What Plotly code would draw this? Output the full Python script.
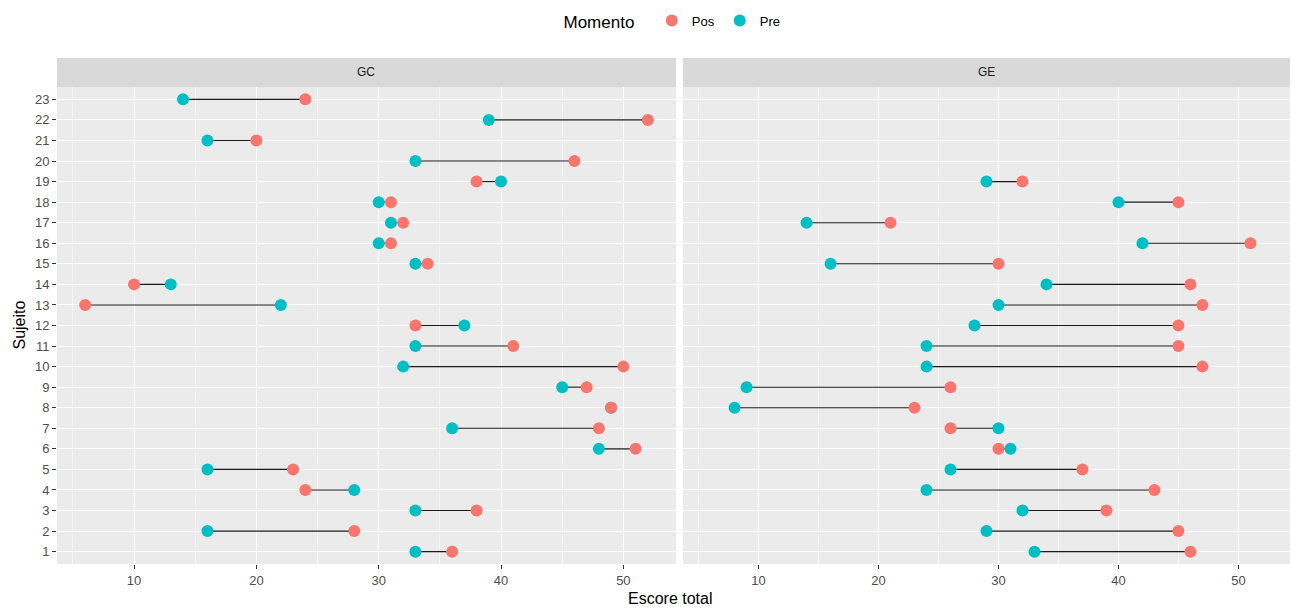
import plotly.graph_objects as go
from plotly.subplots import make_subplots

# Escore total por sujeito, antes (Pre) e depois (Pos), em cada grupo
subjects = list(range(1, 24))

gc_pre = [33, 16, 33, 28, 16, 48, 36, 49, 45, 32, 33, 37, 22, 13, 33, 30, 31, 30, 40, 33, 16, 39, 14]
gc_pos = [36, 28, 38, 24, 23, 51, 48, 49, 47, 50, 41, 33, 6, 10, 34, 31, 32, 31, 38, 46, 20, 52, 24]

ge_pre = [33, 29, 32, 24, 26, 31, 30, 8, 9, 24, 24, 28, 30, 34, 16, 42, 14, 40, 29, None, None, None, None]
ge_pos = [46, 45, 39, 43, 37, 30, 26, 23, 26, 47, 45, 45, 47, 46, 30, 51, 21, 45, 32, None, None, None, None]

groups = ["GC", "GE"]
panels = {"GC": (gc_pre, gc_pos), "GE": (ge_pre, ge_pos)}

col_pos = "#F8766D"
col_pre = "#00BFC4"
font_family = "Liberation Sans, Arial, sans-serif"

fig = make_subplots(rows=1, cols=2, shared_yaxes=True, horizontal_spacing=0.0057)

for i, g in enumerate(groups, start=1):
    pre, pos = panels[g]
    seg_x, seg_y = [], []
    for s, a, b in zip(subjects, pre, pos):
        if a is None or b is None:
            continue
        seg_x += [a, b, None]
        seg_y += [s, s, None]
    fig.add_trace(go.Scatter(x=seg_x, y=seg_y, mode="lines",
                             line=dict(color="#1a1a1a", width=1.1),
                             showlegend=False, hoverinfo="skip"), row=1, col=i)
    fig.add_trace(go.Scatter(x=pre, y=subjects, mode="markers", name="Pre",
                             marker=dict(color=col_pre, size=12),
                             legendgroup="Pre", legendrank=2, showlegend=(i == 1)),
                  row=1, col=i)
    fig.add_trace(go.Scatter(x=pos, y=subjects, mode="markers", name="Pos",
                             marker=dict(color=col_pos, size=12),
                             legendgroup="Pos", legendrank=1, showlegend=(i == 1)),
                  row=1, col=i)

x_common = dict(range=[3.7, 54.3], tickvals=[10, 20, 30, 40, 50],
                showgrid=True, gridcolor="white", gridwidth=1.1,
                minor=dict(tickvals=[5, 15, 25, 35, 45, 55], showgrid=True,
                           gridcolor="#F5F5F5", gridwidth=0.5, ticks=""),
                ticks="outside", ticklen=4, tickcolor="#333333",
                tickfont=dict(size=13, color="#4D4D4D", family=font_family),
                zeroline=False, showline=False)
plot_h = 608 - 58 - 44
y_dom = [0, (564 - 87) / plot_h]
fig.update_xaxes(**x_common)
fig.update_xaxes(domain=[0, 0.502], row=1, col=1)
fig.update_xaxes(domain=[0.5077, 1], row=1, col=2)

fig.update_yaxes(range=[0.4, 23.6], tickvals=subjects, domain=y_dom,
                 showgrid=True, gridcolor="white", gridwidth=1.1,
                 ticks="", zeroline=False, showline=False,
                 tickfont=dict(size=13, color="#4D4D4D", family=font_family))
fig.update_yaxes(ticks="outside", ticklen=4, tickcolor="#333333", row=1, col=1)

# strip headers for each facet
for dom, g in [((0, 0.502), "GC"), ((0.5077, 1), "GE")]:
    fig.add_shape(type="rect", xref="paper", yref="paper",
                  x0=dom[0], x1=dom[1], y0=y_dom[1], y1=1,
                  fillcolor="#D9D9D9", line=dict(width=0), layer="below")
    fig.add_annotation(x=(dom[0] + dom[1]) / 2, y=(y_dom[1] + 1) / 2,
                       xref="paper", yref="paper", text=g, showarrow=False,
                       xanchor="center", yanchor="middle",
                       font=dict(size=12, color="#1A1A1A", family=font_family))

fig.add_annotation(x=0.497, y=-(598 - 564) / plot_h, xref="paper", yref="paper",
                   text="Escore total", showarrow=False,
                   xanchor="center", yanchor="middle",
                   font=dict(size=16, color="black", family=font_family))
fig.add_annotation(x=-(57 - 19) / 1233, y=y_dom[1] / 2, xref="paper", yref="paper",
                   text="Sujeito", showarrow=False, textangle=-90,
                   xanchor="center", yanchor="middle",
                   font=dict(size=16, color="black", family=font_family))

fig.update_layout(
    width=1292, height=608,
    margin=dict(l=57, r=2, t=58, b=44),
    paper_bgcolor="white", plot_bgcolor="#EBEBEB",
    font=dict(family=font_family),
    legend=dict(orientation="h", x=0.5, xanchor="center", y=1 + 36 / plot_h, yanchor="middle",
                title=dict(text="Momento  ", font=dict(size=17, color="black")),
                font=dict(size=13, color="black"), itemsizing="constant"),
)

fig.write_html("out.html")
